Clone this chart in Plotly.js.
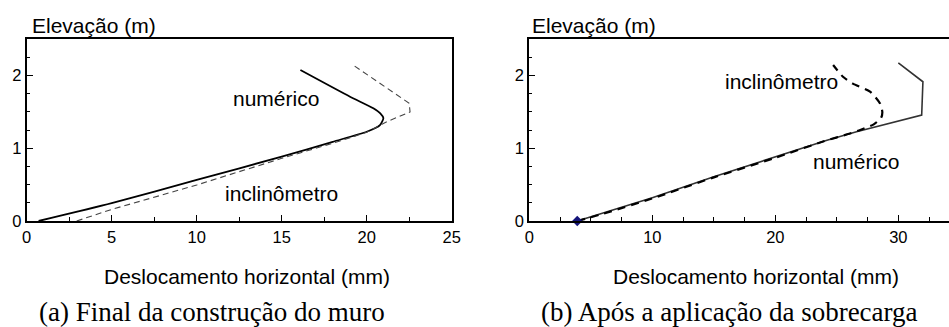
<!DOCTYPE html>
<html>
<head>
<meta charset="utf-8">
<script src="https://cdn.plot.ly/plotly-3.0.1.min.js"></script>
<style>
  html, body { margin: 0; padding: 0; background: #fff; }
  #chart { width: 949px; height: 327px; }
</style>
</head>
<body>
<div id="chart"></div>
<script>
// ---- Data ----
// (a) Final da construção do muro
const aNumX = [0.7, 5, 10, 15, 18, 20, 20.78, 20.98, 20.8, 20.39, 19.02, 16.1];
const aNumY = [0, 0.245, 0.565, 0.885, 1.09, 1.228, 1.32, 1.413, 1.48, 1.55, 1.71, 2.077];
const aIncX = [2.94, 5, 10, 15, 18, 20, 21.18, 22.55, 22.5, 19.2];
const aIncY = [0, 0.16, 0.495, 0.862, 1.07, 1.22, 1.366, 1.50, 1.62, 2.146];

// (b) Após a aplicação da sobrecarga
const bNumX = [3.9, 10, 15, 20, 24.2, 26.6, 31.9, 32.0, 30.0];
const bNumY = [0, 0.32, 0.61, 0.88, 1.11, 1.228, 1.458, 1.916, 2.177];
const bIncX = [3.9, 6, 10, 15, 20, 24, 26, 26.9, 28.0, 28.6, 28.7, 28.5, 27.7, 26.3, 25.5, 24.7];
const bIncY = [0, 0.1, 0.31, 0.6, 0.87, 1.1, 1.2, 1.252, 1.33, 1.42, 1.50, 1.62, 1.78, 1.89, 1.985, 2.146];
const bMarkX = [3.9];
const bMarkY = [0];

const aXTicks = [0, 5, 10, 15, 20, 25];
const bXTicks = [0, 10, 20, 30];
const yTicks = [0, 1, 2];

const labelNum = "numérico";
const labelInc = "inclinômetro";
const yTitle = "Elevação (m)";
const xTitle = "Deslocamento horizontal (mm)";
const capA = "(a) Final da construção do muro";
const capB = "(b) Após a aplicação da sobrecarga";

// ---- Layout helpers ----
const W = 949, H = 327;
const px = v => v / W;
const py = v => 1 - v / H;
const SANS = "Liberation Sans, Arial, sans-serif";
const SERIF = "Liberation Serif, Times New Roman, serif";

const traces = [
  { x: aNumX, y: aNumY, xaxis: 'x', yaxis: 'y', mode: 'lines',
    line: { color: '#000', width: 1.8, shape: 'spline', smoothing: 0.6 }, hoverinfo: 'skip' },
  { x: aIncX, y: aIncY, xaxis: 'x', yaxis: 'y', mode: 'lines',
    line: { color: '#444', width: 1.1, dash: '6px,4px' }, hoverinfo: 'skip' },
  { x: bNumX, y: bNumY, xaxis: 'x2', yaxis: 'y2', mode: 'lines',
    line: { color: '#333', width: 1.6 }, hoverinfo: 'skip' },
  { x: bIncX, y: bIncY, xaxis: 'x2', yaxis: 'y2', mode: 'lines',
    line: { color: '#000', width: 2.2, dash: '8px,6px', shape: 'spline', smoothing: 0.6 }, hoverinfo: 'skip' },
  { x: bMarkX, y: bMarkY, xaxis: 'x2', yaxis: 'y2', mode: 'markers',
    marker: { symbol: 'diamond', size: 8, color: '#14147a' }, hoverinfo: 'skip', cliponaxis: false }
];

const TICKFONT = { family: SANS, size: 16.5, color: '#000' };

function xAxis(domain, range, ticks, anchor) {
  return {
    domain: domain, range: range, anchor: anchor,
    tickmode: 'array', tickvals: ticks, ticktext: ticks.map(String),
    ticks: 'inside', ticklen: 6, tickwidth: 1, tickcolor: '#000',
    minor: { dtick: 2.5, tick0: 0, ticks: 'inside', ticklen: 4, tickwidth: 1, tickcolor: '#000', showgrid: false },
    showline: true, linewidth: 2, linecolor: '#000', mirror: true,
    showgrid: false, zeroline: false,
    tickfont: TICKFONT
  };
}
function yAxis(domain, anchor, mirror) {
  return {
    domain: domain, range: [0, 2.5], anchor: anchor,
    tickmode: 'array', tickvals: yTicks, ticktext: yTicks.map(String),
    ticks: 'inside', ticklen: 6, tickwidth: 1, tickcolor: '#000',
    minor: { dtick: 0.25, tick0: 0, ticks: 'inside', ticklen: 3, tickwidth: 1, tickcolor: '#000', showgrid: false },
    showline: true, linewidth: 2, linecolor: '#000', mirror: mirror,
    showgrid: false, zeroline: false,
    tickfont: TICKFONT
  };
}

const yDom = [py(221), py(39.3)];

const ann = (text, x, y, size, family, xanchor) => ({
  text: text, xref: 'paper', yref: 'paper', x: px(x), y: py(y),
  xanchor: xanchor || 'center', yanchor: 'middle', showarrow: false,
  font: { family: family, size: size, color: '#000' }
});

const layout = {
  width: W, height: H,
  margin: { l: 0, r: 0, t: 0, b: 0, pad: 0 },
  paper_bgcolor: '#fff', plot_bgcolor: '#fff',
  showlegend: false,
  xaxis: xAxis([px(26.7), px(451.7)], [0, 25], aXTicks, 'y'),
  yaxis: yAxis(yDom, 'x', true),
  xaxis2: xAxis([px(529.3), 1], [0, 34.12], bXTicks, 'y2'),
  yaxis2: yAxis(yDom, 'x2', false),
  annotations: [
    ann(yTitle, 30, 25, 21, SANS, 'left'),
    ann(yTitle, 530, 25, 21, SANS, 'left'),
    ann(xTitle, 246.7, 276, 21, SANS),
    ann(xTitle, 756, 276, 21, SANS),
    ann(labelNum, 275.5, 98, 21, SANS),
    ann(labelInc, 281, 193, 21, SANS),
    ann(labelInc, 781, 82, 21, SANS),
    ann(labelNum, 856, 161, 21, SANS),
    ann(capA, 212, 312, 27, SERIF),
    ann(capB, 729, 312, 27, SERIF)
  ]
};

Plotly.newPlot('chart', traces, layout, { staticPlot: true, displayModeBar: false });
</script>
</body>
</html>
